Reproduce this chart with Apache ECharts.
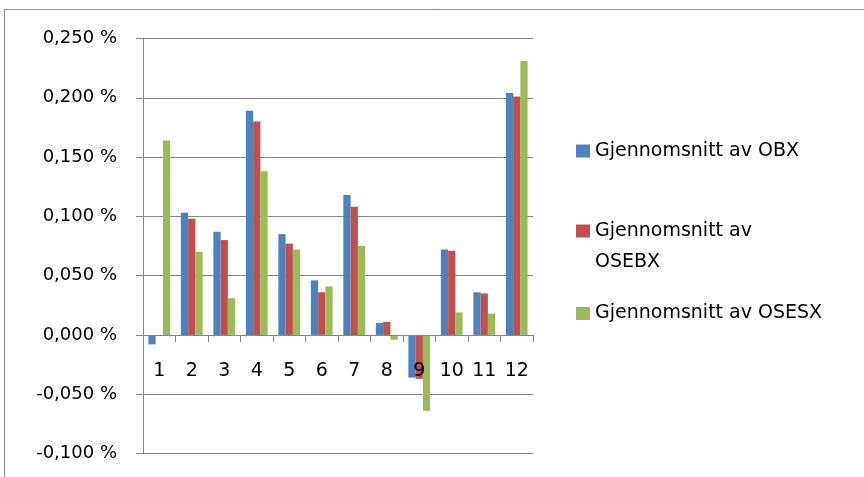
<!DOCTYPE html>
<html>
<head>
<meta charset="utf-8">
<script src="https://cdn.jsdelivr.net/npm/echarts@6/dist/echarts.min.js"></script>
<style>
  html, body { margin: 0; padding: 0; background: #ffffff; }
  #chart { width: 864px; height: 477px; }
</style>
</head>
<body>
<div id="chart"></div>
<script>
// Months 1..12 and average daily returns (in percent) for three Oslo indices
const categories = ['1', '2', '3', '4', '5', '6', '7', '8', '9', '10', '11', '12'];
const seriesNames = ['Gjennomsnitt av OBX', 'Gjennomsnitt av OSEBX', 'Gjennomsnitt av OSESX'];
const obx   = [-0.008, 0.103, 0.087, 0.189, 0.085, 0.046, 0.118, 0.010, -0.036, 0.072, 0.036, 0.204];
const osebx = [null,   0.098, 0.080, 0.180, 0.077, 0.036, 0.108, 0.011, -0.037, 0.071, 0.035, 0.201];
const osesx = [0.164,  0.070, 0.031, 0.138, 0.072, 0.041, 0.075, -0.004, -0.064, 0.019, 0.018, 0.231];
const yTicks = { min: -0.1, max: 0.25, step: 0.05 };

const colors = ['#4F81BD', '#C0504D', '#9BBB59'];
const gridGray = '#868686';
const font = 'DejaVu Sans';

// plot box in pixels
const plot = { left: 143, top: 38.5, right: 331, bottom: 23.5 };
const plotHeight = 477 - plot.top - plot.bottom;
// distance from the bottom edge of the plot up to the zero line
const zeroOffset = plotHeight * (0 - yTicks.min) / (yTicks.max - yTicks.min);

function pctLabel(v) {
  return v.toFixed(3).replace('.', ',') + ' %';
}

function legendAt(name, top, text) {
  return {
    data: [name],
    left: 576,
    top: top,
    orient: 'vertical',
    padding: 0,
    icon: 'rect',
    itemWidth: 14,
    itemHeight: 13,
    itemGap: 0,
    selectedMode: false,
    formatter: text ? function () { return text; } : undefined,
    textStyle: Object.assign({ fontFamily: font, fontSize: 19, color: '#000000' },
      text ? { lineHeight: 31 } : {})
  };
}

const chart = echarts.init(document.getElementById('chart'), null, { renderer: 'canvas' });

chart.setOption({
  animation: false,
  backgroundColor: '#ffffff',
  color: colors,
  grid: {
    left: plot.left, right: plot.right, top: plot.top, bottom: plot.bottom,
    containLabel: false, outerBoundsMode: 'none'
  },
  legend: [
    legendAt(seriesNames[0], 141.5),
    legendAt(seriesNames[1], 184.5, '\nGjennomsnitt av\nOSEBX'),
    legendAt(seriesNames[2], 304)
  ],
  xAxis: {
    type: 'category',
    data: categories,
    position: 'bottom',
    offset: -zeroOffset,
    z: 3,
    axisLine: { onZero: false, lineStyle: { color: gridGray, width: 1 } },
    axisTick: { show: true, length: 7, alignWithLabel: false, lineStyle: { color: gridGray } },
    axisLabel: { margin: 26.5, fontFamily: font, fontSize: 19, color: '#000000' },
    splitLine: { show: false }
  },
  yAxis: {
    type: 'value',
    min: yTicks.min,
    max: yTicks.max,
    interval: yTicks.step,
    axisLine: { show: true, lineStyle: { color: gridGray, width: 1 } },
    axisTick: { show: true, inside: false, length: 7, lineStyle: { color: gridGray } },
    axisLabel: {
      margin: 26,
      fontFamily: font,
      fontSize: 18,
      color: '#000000',
      formatter: pctLabel
    },
    splitLine: { show: true, lineStyle: { color: gridGray, width: 1 } }
  },
  series: [
    { name: seriesNames[0], type: 'bar', data: obx, barGap: '0%', barCategoryGap: '33%' },
    { name: seriesNames[1], type: 'bar', data: osebx, barGap: '0%', barCategoryGap: '33%' },
    { name: seriesNames[2], type: 'bar', data: osesx, barGap: '0%', barCategoryGap: '33%' }
  ],
  graphic: [
    {
      type: 'rect',
      silent: true,
      shape: { x: 4.5, y: 9.5, width: 900, height: 500 },
      style: { fill: 'none', stroke: '#8c8c8c', lineWidth: 1 }
    }
  ]
});
</script>
</body>
</html>
